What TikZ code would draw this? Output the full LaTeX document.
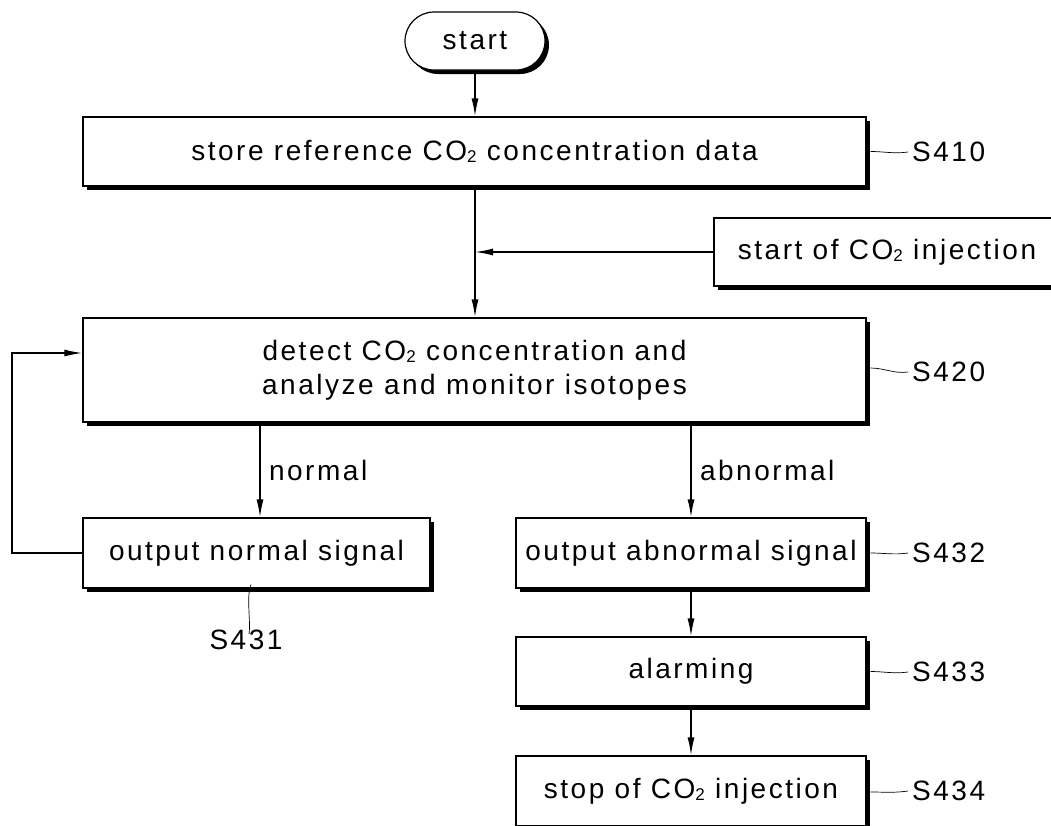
\documentclass[tikz,border=0pt]{standalone}
\usepackage{fontspec}
\setmainfont[LetterSpace=9]{Liberation Sans}
\usetikzlibrary{arrows.meta,shadows,shapes.misc}
\newcommand{\cotwo}{CO\raisebox{-0.15ex}{\fontsize{17pt}{17pt}\selectfont 2}}
\begin{document}
\begin{tikzpicture}[x=1pt,y=-1pt, font=\fontsize{28pt}{34pt}\selectfont,
  box/.style={draw, line width=1.2pt, fill=white,
    drop shadow={shadow xshift=4pt,shadow yshift=-4pt,opacity=1,fill=black},
    inner sep=0pt, align=center},
  arr/.style={line width=1.5pt, -{Latex[length=18pt,width=7pt]}},
  lead/.style={line width=0.7pt},
  lbl/.style={anchor=west, inner sep=0pt}]
\clip (0,0) rectangle (1051,825);
\fill[white] (0,0) rectangle (1051,825);
% nodes
\node[box, rounded rectangle, minimum width=140pt, minimum height=58pt] (start) at (475,41) {start};
\node[box, minimum width=783pt, minimum height=69pt] (s410) at (474.5,151.5) {store reference \cotwo{} concentration data};
\node[box, minimum width=346pt, minimum height=68pt] (inj) at (887,252) {start of \cotwo{} injection};
\node[box, minimum width=783pt, minimum height=104pt] (s420) at (474.5,370) {detect \cotwo{} concentration and\\analyze and monitor isotopes};
\node[box, minimum width=347pt, minimum height=70pt] (nrm) at (256.5,553) {output normal signal};
\node[box, minimum width=350pt, minimum height=70pt] (abn) at (691,553) {output abnormal signal};
\node[box, minimum width=350pt, minimum height=69pt] (alm) at (691,671.5) {alarming};
\node[box, minimum width=350pt, minimum height=70pt] (stp) at (691,791) {stop of \cotwo{} injection};
% labels
\node[lbl] (l410) at (912,152) {S410};
\node[lbl] (l420) at (912,372) {S420};
\node[lbl] (l432) at (912,553) {S432};
\node[lbl] (l433) at (912,672) {S433};
\node[lbl] (l434) at (912,791) {S434};
\node[anchor=north, inner sep=0pt] (l431) at (246,630) {S431};
% connectors
\draw[arr] (start.south) -- (start.south |- s410.north);
\draw[arr] (start.south |- s410.south) -- (start.south |- s420.north);
\coordinate (j) at (start.south |- inj.west);
\draw[arr] (inj.west) -- (j);
\coordinate (na) at (260,0);
\draw[arr] (s420.south -| na) -- (nrm.north -| na) node[midway, right=5pt] {normal};
\draw[arr] (s420.south -| abn.north) -- (abn.north) node[midway, right=5pt] {abnormal};
\draw[arr] (abn.south) -- (alm.north);
\draw[arr] (alm.south) -- (stp.north);
\coordinate (lp) at (12,353);
\draw[arr] (nrm.west) -| (lp) -- (lp -| s420.west);
% leaders
\draw[lead] ([xshift=4pt]s410.east) .. controls +(14,0) and +(-14,2) .. ([xshift=-4pt]l410.west);
\draw[lead] ([xshift=4pt,yshift=2pt]s420.east) .. controls +(14,0) and +(-14,2) .. ([xshift=-4pt]l420.west);
\draw[lead] ([xshift=4pt]abn.east) .. controls +(14,0) and +(-14,2) .. ([xshift=-4pt]l432.west);
\draw[lead] ([xshift=4pt]alm.east) .. controls +(14,0) and +(-14,2) .. ([xshift=-4pt]l433.west);
\draw[lead] ([xshift=4pt,yshift=-1pt]stp.east) .. controls +(14,0) and +(-14,2) .. ([xshift=-4pt]l434.west);
\draw[lead] ([xshift=-5.5pt,yshift=4pt]nrm.south) .. controls +(-5,12) and +(2,-12) .. ([yshift=-4pt,xshift=3pt]l431.north);
\end{tikzpicture}
\end{document}
